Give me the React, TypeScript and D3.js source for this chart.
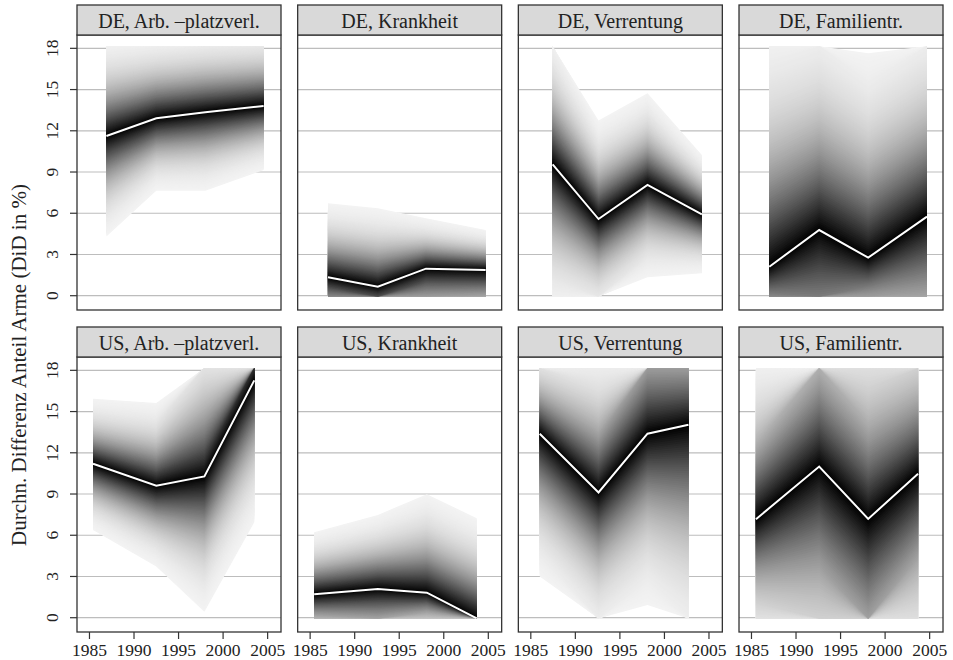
import React from "react";
import * as d3 from "d3";

// Facet titles, row-major: top row DE, bottom row US
const panelTitles = [
  "DE, Arb. –platzverl.",
  "DE, Krankheit",
  "DE, Verrentung",
  "DE, Familientr.",
  "US, Arb. –platzverl.",
  "US, Krankheit",
  "US, Verrentung",
  "US, Familientr.",
];

// Survey waves per facet
const waveYears = [
  [1986.9, 1992.5, 1998.0, 2004.55],
  [1987.0, 1992.6, 1998.0, 2004.7],
  [1987.45, 1992.6, 1998.1, 2004.2],
  [1987.0, 1992.6, 1998.1, 2004.7],
  [1985.4, 1992.5, 1997.9, 2003.5],
  [1985.45, 1992.6, 1998.1, 2003.7],
  [1986.0, 1992.6, 1998.1, 2002.7],
  [1985.5, 1992.6, 1998.1, 2003.7],
];

// Mean DiD estimate (white line)
const meanDiff = [
  [11.62, 12.91, 13.35, 13.81],
  [1.34, 0.66, 1.97, 1.87],
  [9.56, 5.58, 8.06, 5.92],
  [2.11, 4.78, 2.77, 5.75],
  [11.2, 9.6, 10.28, 17.27],
  [1.7, 2.09, 1.82, -0.05],
  [13.39, 9.11, 13.39, 14.04],
  [7.17, 11.0, 7.19, 10.47],
];

// Outer (1% / 99%) quantiles of the fan, before truncation to the plotted range
const lowerQ = [
  [4.3, 7.64, 7.64, 9.15],
  [-3.0, -3.5, -3.3, -2.8],
  [-1.1, -1.6, 1.34, 1.63],
  [-4.6, -12.0, -4.6, -8.4],
  [6.39, 3.72, 0.44, 6.95],
  [-2.1, -3.2, -1.7, -2.0],
  [2.99, -1.7, 0.93, -2.0],
  [-2.9, -7.4, -11.0, -4.6],
];
const upperQ = [
  [18.7, 18.9, 19.2, 19.3],
  [6.72, 6.36, 5.63, 4.78],
  [19.05, 12.74, 14.73, 10.24],
  [19.5, 20.4, 17.64, 20.3],
  [15.94, 15.62, 21.0, 26.0],
  [6.22, 7.48, 8.99, 7.24],
  [20.1, 19.7, 25.8, 24.7],
  [19.3, 26.8, 22.8, 23.2],
];

const yTicks = [0, 3, 6, 9, 12, 15, 18];
const xTicks = [1985, 1990, 1995, 2000, 2005];
const yTitle = "Durchn. Differenz Anteil Arme (DiD in %)";

const W = 953;
const H = 660;
const plotLeft = 77;
const colStep = 220.67;
const panelW = 204;
const rowTop = [5, 327];
const stripH = 30;
const panelH = 275;
const truncHi = 18.15;
const truncLo = -0.05;
const nBands = 100;
const zMax = 2.326; // z of the outer quantile
const tickFont = 17.5;
const font = "'Liberation Serif', 'Times New Roman', serif";

const xScale = d3.scaleLinear().domain([1983.6, 2006.5]).range([0, panelW]);
const yScale = d3.scaleLinear().domain([-1.04, 18.97]).range([panelH, 0]);

const clampV = (v: number) => Math.max(truncLo, Math.min(truncHi, v));

// Standard normal CDF (Abramowitz–Stegun erf approximation)
function phi(z: number) {
  const x = Math.abs(z) / Math.SQRT2;
  const t = 1 / (1 + 0.3275911 * x);
  const y =
    1 -
    ((((1.061405429 * t - 1.453152027) * t + 1.421413741) * t - 0.284496736) * t +
      0.254829592) *
      t *
      Math.exp(-x * x);
  const erf = z >= 0 ? y : -y;
  return 0.5 * (1 + erf);
}

// Grey level of a band at relative distance f (0 = median, 1 = outer quantile)
const shade = (f: number) => {
  const c = (phi(f * zMax) - 0.5) / (phi(zMax) - 0.5);
  const v = Math.round(243 * Math.min(1, Math.max(0, c)));
  return d3.rgb(v, v, v).formatHex();
};

type Pt = { yr: number; m: number; lo: number; hi: number };

function Fan({ idx }: { idx: number }) {
  const pts: Pt[] = waveYears[idx].map((yr, i) => ({
    yr,
    m: meanDiff[idx][i],
    lo: lowerQ[idx][i],
    hi: upperQ[idx][i],
  }));
  const bands = d3.range(nBands, 0, -1).map((k) => {
    const f = k / nBands;
    const area = d3
      .area<Pt>()
      .x((d) => xScale(d.yr))
      .y0((d) => yScale(clampV(d.m + f * (d.lo - d.m))))
      .y1((d) => yScale(clampV(d.m + f * (d.hi - d.m))));
    return (
      <path
        key={k}
        d={area(pts) || ""}
        fill={shade((k - 0.5) / nBands)}
        stroke="none"
      />
    );
  });
  const line = d3
    .line<Pt>()
    .x((d) => xScale(d.yr))
    .y((d) => yScale(d.m));
  return (
    <g>
      {bands}
      <path d={line(pts) || ""} fill="none" stroke="#ffffff" strokeWidth={2} />
    </g>
  );
}

export default function App() {
  return (
    <svg
      width={W}
      height={H}
      viewBox={`0 0 ${W} ${H}`}
      style={{ position: "absolute", left: 0, top: 0, background: "#ffffff" }}
    >
      <rect x={0} y={0} width={W} height={H} fill="#ffffff" />
      <text
        transform={`translate(26,365) rotate(-90)`}
        textAnchor="middle"
        fontSize={21}
        fontFamily={font}
        fill="#222"
      >
        {yTitle}
      </text>
      {panelTitles.map((title, i) => {
        const col = i % 4;
        const row = Math.floor(i / 4);
        const gx = plotLeft + col * colStep;
        const sy = rowTop[row];
        const gy = sy + stripH;
        const clipId = `panel-clip-${i}`;
        return (
          <g key={i}>
            <g transform={`translate(${gx},${gy})`}>
              <clipPath id={clipId}>
                <rect x={0} y={0} width={panelW} height={panelH} />
              </clipPath>
              <g clipPath={`url(#${clipId})`}>
                {yTicks.map((t) => (
                  <line
                    key={t}
                    x1={0}
                    x2={panelW}
                    y1={yScale(t)}
                    y2={yScale(t)}
                    stroke="#bdbdbd"
                    strokeWidth={1.2}
                  />
                ))}
                <Fan idx={i} />
              </g>
            </g>
            <rect
              x={gx}
              y={gy}
              width={panelW}
              height={panelH}
              fill="none"
              stroke="#333"
              strokeWidth={1.3}
            />
            <rect
              x={gx}
              y={sy}
              width={panelW}
              height={stripH}
              fill="#d9d9d9"
              stroke="#333"
              strokeWidth={1.3}
            />
            <text
              x={gx + panelW / 2}
              y={gy - 7.5}
              textAnchor="middle"
              fontSize={20}
              fontFamily={font}
              fill="#222"
            >
              {title}
            </text>
            {col === 0 &&
              yTicks.map((t) => (
                <g key={`yt${t}`} transform={`translate(${gx},${gy + yScale(t)})`}>
                  <line x1={-7} x2={0} y1={0} y2={0} stroke="#333" strokeWidth={1.2} />
                  <text
                    transform="translate(-19,0) rotate(-90)"
                    textAnchor="middle"
                    fontSize={tickFont}
                    fontFamily={font}
                    fill="#222"
                  >
                    {t}
                  </text>
                </g>
              ))}
            {row === 1 &&
              xTicks.map((t) => (
                <g key={`xt${t}`} transform={`translate(${gx + xScale(t)},${gy + panelH})`}>
                  <line x1={0} x2={0} y1={0} y2={7} stroke="#333" strokeWidth={1.2} />
                  <text
                    x={0}
                    y={24}
                    textAnchor="middle"
                    fontSize={tickFont}
                    fontFamily={font}
                    fill="#222"
                  >
                    {t}
                  </text>
                </g>
              ))}
          </g>
        );
      })}
    </svg>
  );
}
